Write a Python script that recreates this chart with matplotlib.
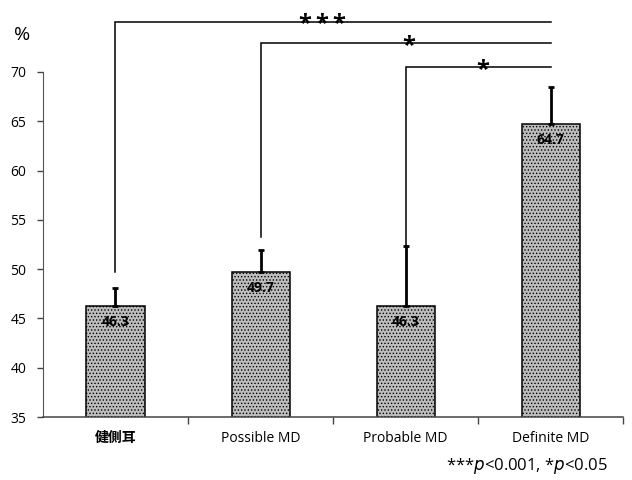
import matplotlib
matplotlib.use("Agg")
from matplotlib import pyplot as plt

plt.rcParams['font.family'] = ['Open Sans', 'Noto Sans CJK JP', 'DejaVu Sans']
plt.rcParams['hatch.color'] = '#8c8c8c'
plt.rcParams['hatch.linewidth'] = 0.6

categories = ['健側耳', 'Possible MD', 'Probable MD', 'Definite MD']
values = [46.3, 49.7, 46.3, 64.7]
errors = [1.8, 2.2, 6.0, 3.8]

# significance brackets: (left index, right index, bracket height, left foot, stars)
brackets = [
    (0, 3, 75.1, 49.7, 3),
    (1, 3, 72.9, 53.3, 1),
    (2, 3, 70.5, 52.4, 1),
]
star_x = [1.42, 2.02, 2.53]
STAR_GAP = 0.117

fig = plt.figure(figsize=(6.32, 4.8), dpi=100)
ax = fig.add_axes([0.068, 0.131, 0.918, 0.863])

x = list(range(len(categories)))
ax.bar(x, values, width=0.4, color='#bdbdbd', edgecolor='black', linewidth=1.1,
       hatch='.....', zorder=2)
ax.errorbar(x, values, yerr=[[0] * len(errors), errors], fmt='none', ecolor='black',
            elinewidth=2, capsize=2.5, capthick=2, zorder=3)

for xi, v in zip(x, values):
    ax.text(xi, v - 0.9, f'{v:.1f}', ha='center', va='top', fontsize=10,
            fontweight='bold', zorder=4)

for (i, j, h, foot, n), sx in zip(brackets, star_x):
    ax.plot([i, i, j], [foot, h, h], color='black', linewidth=1.1, zorder=1,
            solid_joinstyle='miter')
    for k in range(n):
        ax.text(sx + (k - (n - 1) / 2) * STAR_GAP, h - 0.9, '*', ha='center',
                va='baseline', fontsize=17, fontweight='bold')

ax.set_xlim(-0.5, 3.5)
ax.set_ylim(35, 77)
ax.set_yticks(range(35, 71, 5))
ax.set_xticks(x)
ax.set_xticklabels(categories, fontsize=10)
ax.get_xticklabels()[0].set_fontweight('bold')
ax.set_xticks([0.5, 1.5, 2.5, 3.5], minor=True)
ax.tick_params(axis='x', which='major', length=0, pad=10)
ax.tick_params(axis='x', which='minor', length=5, width=1, color='#444444')
ax.tick_params(axis='y', labelsize=10, length=4, width=1, color='#444444', pad=8)

for side in ['top', 'right']:
    ax.spines[side].set_visible(False)
ax.spines['left'].set_bounds(35, 70)
ax.spines['left'].set_color('#555555')
ax.spines['bottom'].set_color('#444444')
ax.spines['bottom'].set_linewidth(1.1)

fig.text(0.035, 0.928, '%', fontsize=14, ha='center', va='center')
fig.text(0.962, 0.008, '***$\\it{p}$<0.001, *$\\it{p}$<0.05', fontsize=12,
         ha='right', va='bottom')

fig.savefig('out.png', dpi=100)
